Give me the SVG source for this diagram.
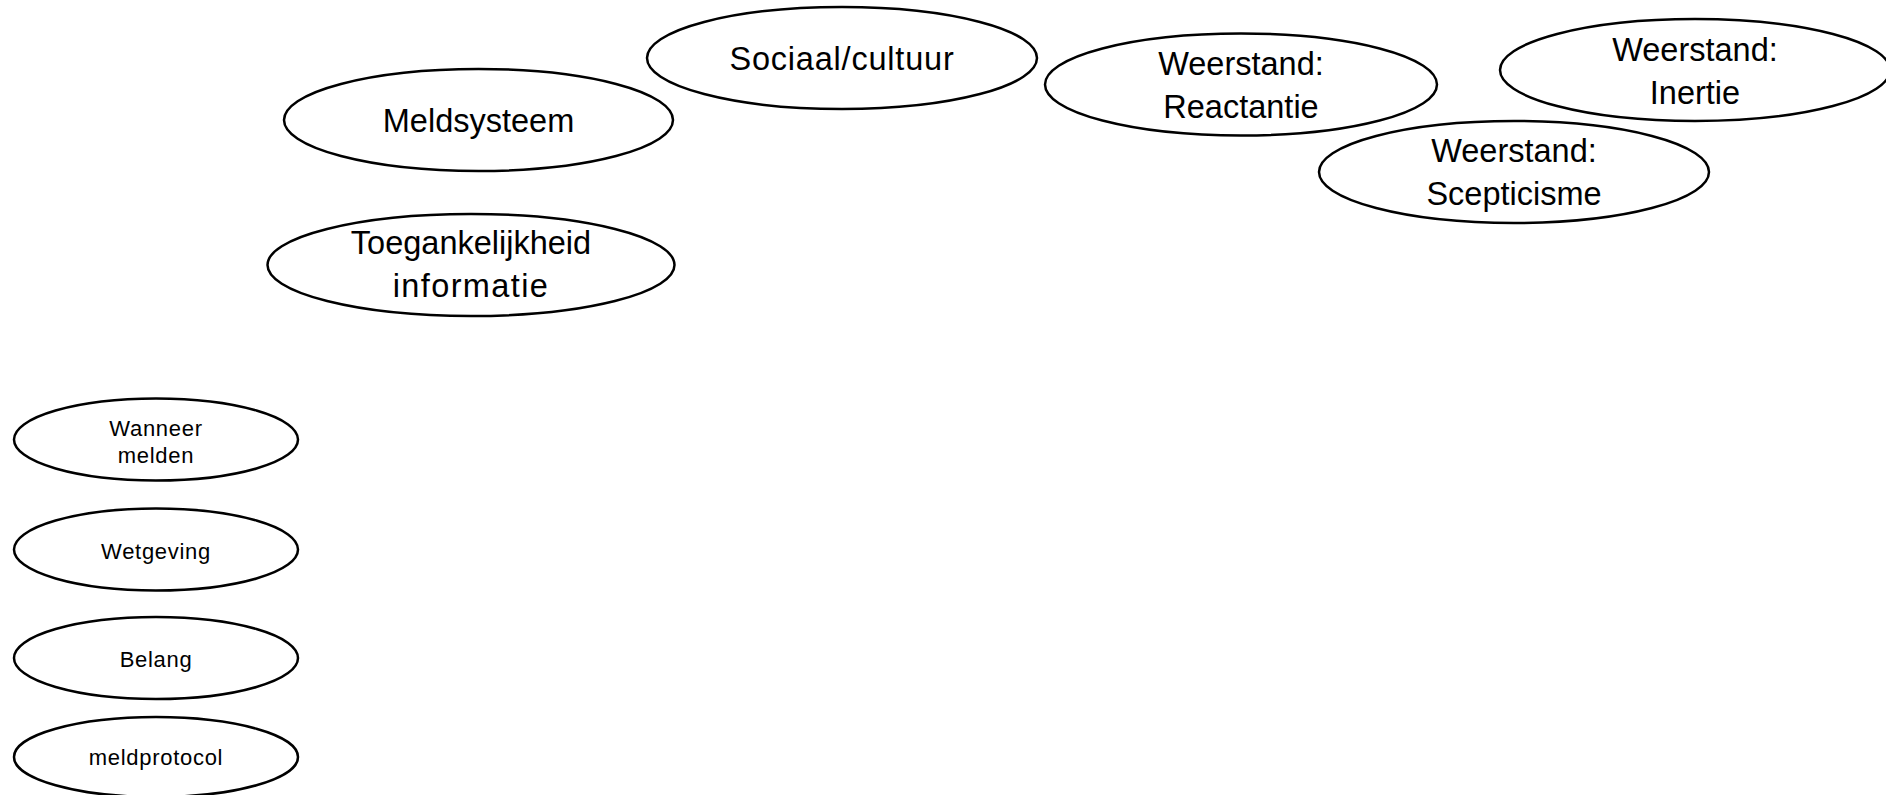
<svg xmlns="http://www.w3.org/2000/svg" width="1886" height="795" viewBox="0 0 1886 795">
  <style>
    .node ellipse { fill: #ffffff; stroke: #000000; stroke-width: 2.5; }
    .node text { font-family: "Liberation Sans", Arial, sans-serif; fill: #000000; text-anchor: middle; }
    .big { font-size: 32.5px; }
    .small { font-size: 22px; letter-spacing: 0.7px; }
  </style>
  <rect x="0" y="0" width="1886" height="795" fill="#ffffff"/>

  <!-- no connectors between the concepts -->
  <g id="connectors"></g>

  <g id="meldsysteem" class="node">
    <ellipse cx="478.5" cy="120" rx="194.5" ry="51"/>
    <text class="big" x="478.5" y="132">Meldsysteem</text>
  </g>

  <g id="toegankelijkheid" class="node">
    <ellipse cx="471" cy="265" rx="203.5" ry="51"/>
    <text class="big" x="471" y="254">Toegankelijkheid</text>
    <text class="big" x="471" y="297" letter-spacing="1.4">informatie</text>
  </g>

  <g id="sociaal-cultuur" class="node">
    <ellipse cx="842" cy="58" rx="195" ry="51"/>
    <text class="big" x="842" y="70" letter-spacing="0.8">Sociaal/cultuur</text>
  </g>

  <g id="weerstand-reactantie" class="node">
    <ellipse cx="1241" cy="84.5" rx="196" ry="51"/>
    <text class="big" x="1241" y="75">Weerstand:</text>
    <text class="big" x="1241" y="118">Reactantie</text>
  </g>

  <g id="weerstand-inertie" class="node">
    <ellipse cx="1695" cy="70" rx="195" ry="51"/>
    <text class="big" x="1695" y="61">Weerstand:</text>
    <text class="big" x="1695" y="104">Inertie</text>
  </g>

  <g id="weerstand-scepticisme" class="node">
    <ellipse cx="1514" cy="172" rx="195" ry="51"/>
    <text class="big" x="1514" y="162">Weerstand:</text>
    <text class="big" x="1514" y="205">Scepticisme</text>
  </g>

  <g id="wanneer-melden" class="node">
    <ellipse cx="156" cy="439.5" rx="142" ry="41"/>
    <text class="small" x="156" y="436">Wanneer</text>
    <text class="small" x="156" y="463">melden</text>
  </g>

  <g id="wetgeving" class="node">
    <ellipse cx="156" cy="549.5" rx="142" ry="41"/>
    <text class="small" x="156" y="559">Wetgeving</text>
  </g>

  <g id="belang" class="node">
    <ellipse cx="156" cy="658" rx="142" ry="41"/>
    <text class="small" x="156" y="667">Belang</text>
  </g>

  <g id="meldprotocol" class="node">
    <ellipse cx="156" cy="757" rx="142" ry="40"/>
    <text class="small" x="156" y="765">meldprotocol</text>
  </g>
</svg>
